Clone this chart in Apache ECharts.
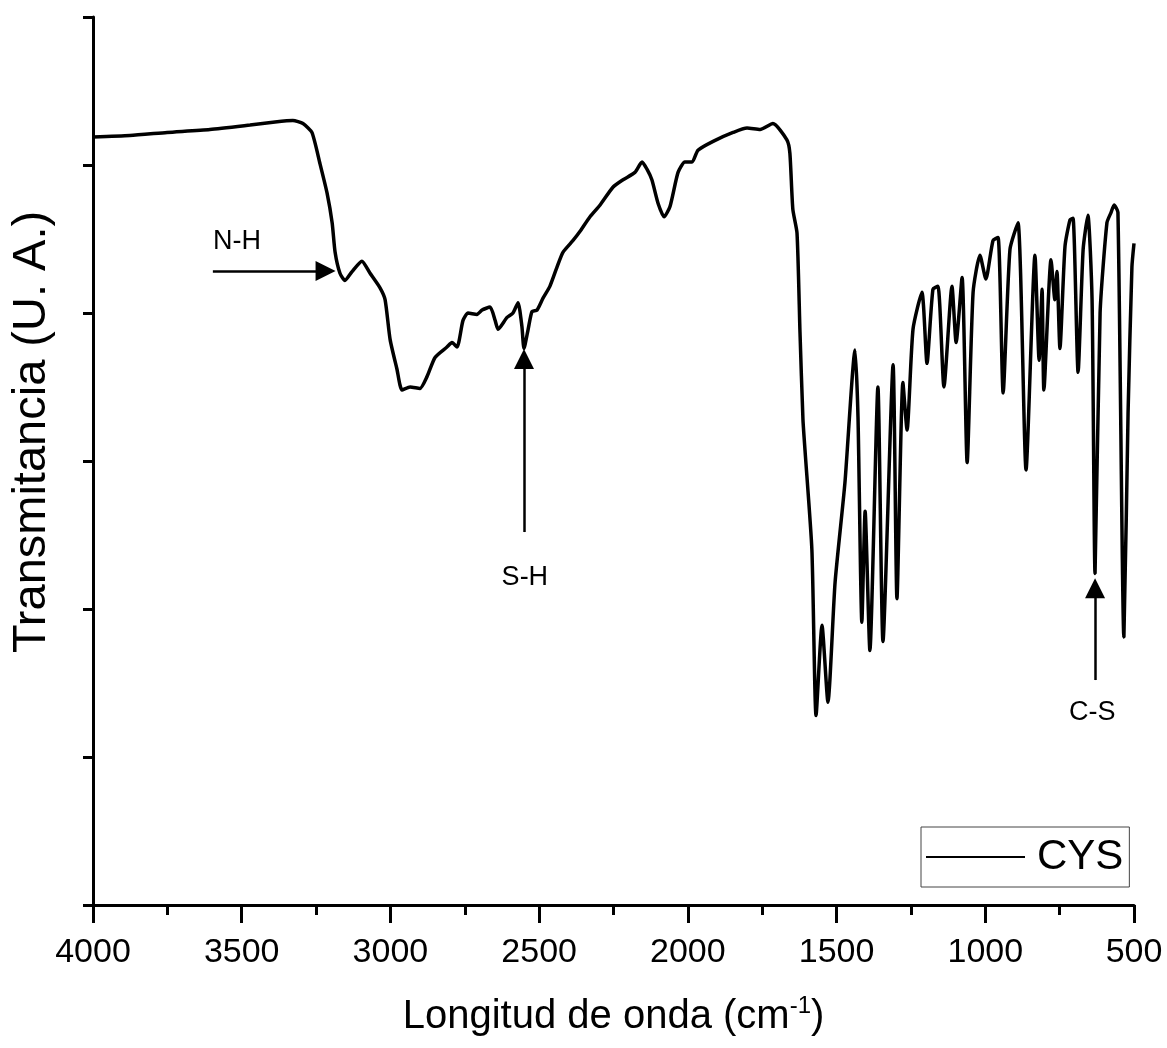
<!DOCTYPE html>
<html>
<head>
<meta charset="utf-8">
<script src="https://cdn.jsdelivr.net/npm/echarts@6/dist/echarts.min.js"></script>
<style>
  html, body { margin: 0; padding: 0; background: #fff; }
  #chart { width: 1167px; height: 1048px; }
</style>
</head>
<body>
<div id="chart"></div>
<script>
// FTIR spectrum
const wavenumber = [
  4000, 3876, 3751, 3607, 3472, 3388, 3328, 3294, 3264, 3237,
  3213, 3196, 3186, 3170, 3153, 3129, 3096, 3069, 3035, 3018,
  3001, 2978, 2961, 2934, 2901, 2877, 2850, 2810, 2793, 2776,
  2756, 2739, 2709, 2692, 2665, 2648, 2638, 2608, 2588, 2571,
  2558, 2551, 2537, 2524, 2507, 2487, 2464, 2440, 2420, 2386,
  2363, 2329, 2295, 2252, 2218, 2178, 2154, 2137, 2121, 2100,
  2080, 2060, 2033, 2010, 1986, 1966, 1915, 1848, 1801, 1757,
  1714, 1667, 1657, 1647, 1633, 1623, 1613, 1606, 1583, 1569,
  1549, 1529, 1505, 1472, 1438, 1428, 1415, 1404, 1388, 1361,
  1344, 1310, 1297, 1277, 1263, 1243, 1213, 1196, 1176, 1159,
  1139, 1112, 1098, 1078, 1061, 1041, 1018, 998, 974, 957,
  940, 917, 890, 863, 833, 819, 809, 803, 779, 766,
  759, 749, 732, 715, 705, 688, 671, 655, 641, 631,
  614, 591, 577, 567, 554, 534, 520, 507, 500
];
const transmittance = [
  5.19, 5.20, 5.22, 5.24, 5.27, 5.29, 5.30, 5.28, 5.22, 5.01,
  4.81, 4.61, 4.41, 4.27, 4.22, 4.28, 4.35, 4.27, 4.17, 4.09,
  3.82, 3.62, 3.48, 3.50, 3.49, 3.57, 3.70, 3.77, 3.80, 3.77,
  3.95, 4.00, 3.99, 4.02, 4.04, 3.95, 3.89, 3.97, 4.00, 4.07,
  3.91, 3.76, 3.89, 4.01, 4.02, 4.10, 4.18, 4.31, 4.41, 4.49,
  4.55, 4.65, 4.73, 4.85, 4.90, 4.95, 5.02, 4.97, 4.90, 4.74,
  4.65, 4.72, 4.95, 5.02, 5.02, 5.10, 5.16, 5.22, 5.25, 5.24,
  5.28, 5.17, 5.08, 4.70, 4.54, 3.87, 3.28, 3.07, 2.40, 1.28,
  1.89, 1.37, 2.18, 2.85, 3.75, 3.30, 1.91, 2.66, 1.72, 3.50,
  1.78, 3.65, 2.07, 3.53, 3.21, 3.89, 4.14, 3.66, 4.16, 4.18,
  3.50, 4.18, 3.80, 4.24, 2.99, 4.14, 4.39, 4.23, 4.49, 4.51,
  3.46, 4.43, 4.61, 2.94, 4.39, 3.68, 4.16, 3.48, 4.36, 4.09,
  4.28, 3.76, 4.45, 4.63, 4.64, 3.60, 4.43, 4.66, 4.09, 2.24,
  4.00, 4.61, 4.68, 4.73, 4.68, 1.81, 3.32, 4.31, 4.47
];
const xTicks = [4000, 3500, 3000, 2500, 2000, 1500, 1000, 500];

// peak labels and arrows
const peakNames = ["N-H", "S-H", "C-S"];
const peakText = [[3516, 4.48], [2548, 2.21], [640, 1.30]];
const arrowFrom = [[3597, 4.284], [2551, 2.52], [631, 1.52]];
const arrowTo = [[3218, 4.284], [2551, 3.69], [631, 2.14]];

const font = "Liberation Sans, Arial, sans-serif";
const chart = echarts.init(document.getElementById("chart"));

chart.setOption({
  animation: false,
  backgroundColor: "#fff",
  grid: { left: 93, right: 33, top: 17, bottom: 143 },
  legend: {
    left: 921,
    top: 827,
    padding: [9, 6, 9, 5],
    icon: "rect",
    itemWidth: 99,
    itemHeight: 2,
    borderColor: "#444",
    borderWidth: 1,
    borderRadius: 0,
    textStyle: { fontFamily: font, fontSize: 42, color: "#000", padding: [0, 0, 0, 7] },
    data: ["CYS"]
  },
  xAxis: {
    type: "value",
    inverse: true,
    min: 500,
    max: 4000,
    interval: 500,
    name: "{a|Longitud de onda (cm}{s|-1}{a|)}",
    nameLocation: "middle",
    nameGap: 89,
    nameTextStyle: {
      rich: {
        a: { fontFamily: font, fontSize: 40, color: "#000", lineHeight: 46 },
        s: { fontFamily: font, fontSize: 24, color: "#000", verticalAlign: "top", lineHeight: 46 }
      }
    },
    axisLine: { lineStyle: { color: "#000", width: 3 } },
    axisTick: { length: 18, lineStyle: { color: "#000", width: 3 } },
    minorTick: { show: true, splitNumber: 2, length: 10, lineStyle: { color: "#000", width: 3 } },
    axisLabel: {
      margin: 31,
      fontFamily: font,
      fontSize: 34,
      color: "#000",
      formatter: (v) => String(v)
    },
    splitLine: { show: false }
  },
  yAxis: {
    type: "value",
    min: 0,
    max: 6,
    interval: 1,
    axisLine: { show: true, lineStyle: { color: "#000", width: 3 } },
    axisTick: { show: true, length: 10, lineStyle: { color: "#000", width: 3 } },
    axisLabel: { show: false },
    splitLine: { show: false }
  },
  graphic: [{
    type: "text",
    x: 32,
    y: 432,
    rotation: Math.PI / 2,
    style: {
      text: "Transmitancia (U. A.)",
      fontFamily: font,
      fontSize: 47,
      fill: "#000",
      textAlign: "center",
      textVerticalAlign: "middle"
    }
  }],
  series: [{
    name: "CYS",
    type: "line",
    data: wavenumber.map((w, i) => [w, transmittance[i]]),
    showSymbol: false,
    symbol: "none",
    smooth: 0.2,
    lineStyle: { color: "#000", width: 3.5 },
    itemStyle: { color: "#000" },
    silent: true,
    markLine: {
      silent: true,
      symbol: ["none", "triangle"],
      symbolSize: 20,
      lineStyle: { color: "#000", type: "solid", width: 2.5 },
      itemStyle: { color: "#000" },
      label: { show: false },
      emphasis: { disabled: true },
      data: arrowFrom.map((p, i) => [{ coord: p }, { coord: arrowTo[i] }])
    },
    markPoint: {
      silent: true,
      symbol: "circle",
      symbolSize: 0,
      label: {
        show: true,
        position: "inside",
        fontFamily: font,
        fontSize: 27,
        color: "#000",
        formatter: (p) => p.name
      },
      data: peakNames.map((n, i) => ({ name: n, coord: peakText[i] }))
    }
  }]
});
</script>
</body>
</html>
